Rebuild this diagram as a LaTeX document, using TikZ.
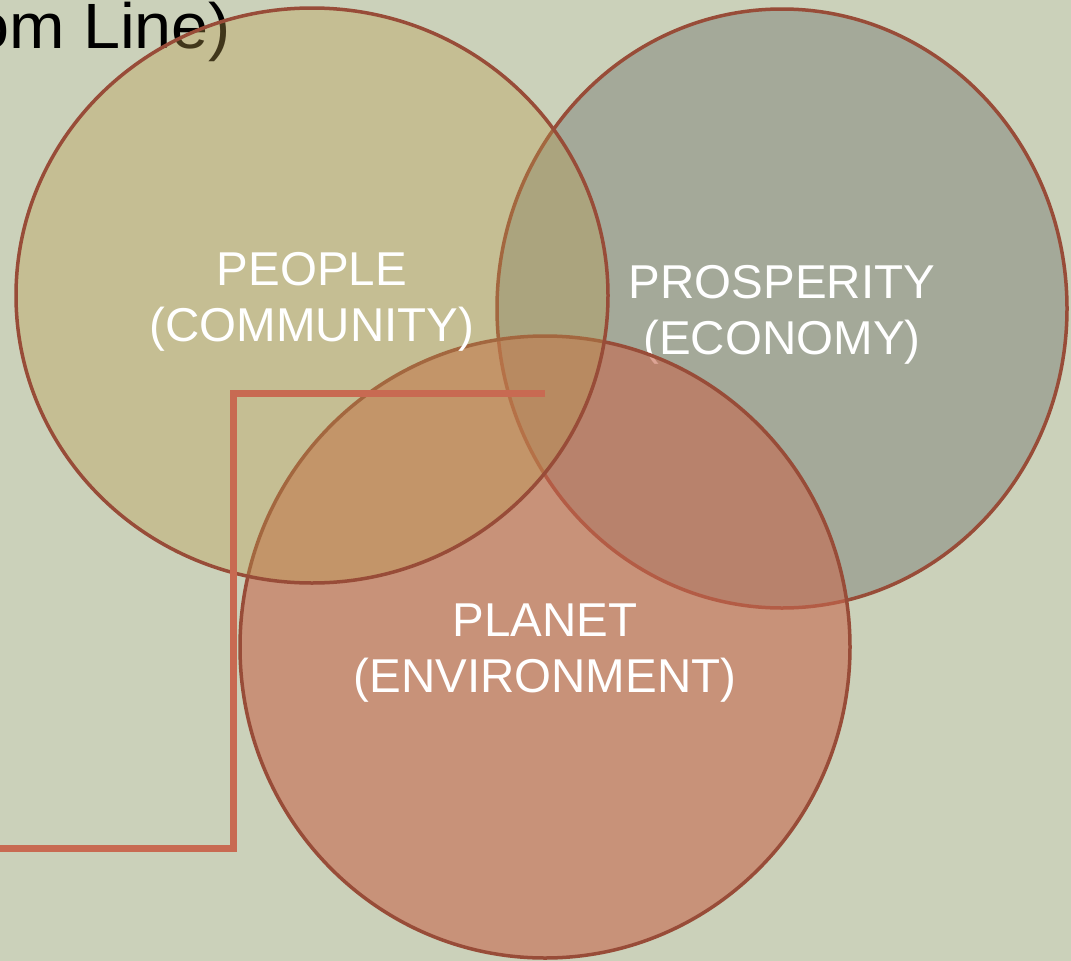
\documentclass[tikz,border=0pt]{standalone}
\usepackage{fontspec}
\setmainfont{Liberation Sans}
\usetikzlibrary{shapes.geometric}

\definecolor{backdrop}{RGB}{203,209,186}
\definecolor{rimcol}{RGB}{152,76,56}
\definecolor{peoplecol}{RGB}{186,155,77}
\definecolor{prospcol}{RGB}{127,131,122}
\definecolor{planetcol}{RGB}{198,104,79}
\definecolor{bracketcol}{RGB}{200,106,82}

\tikzset{
  rim/.style={ellipse, draw=rimcol, line width=3.5pt, inner sep=0pt},
  lbl/.style={text=white, align=center, inner sep=0pt, yshift=-6pt, font=\fontsize{47.5}{56}\selectfont},
  bracket/.style={draw=bracketcol, line width=7pt}
}

\begin{document}
\begin{tikzpicture}[x=1pt,y=-1pt]
\fill[backdrop] (0,0) rectangle (1071,961); %background
\useasboundingbox (0,0) rectangle (1071,961);

\node[anchor=base west, inner sep=0pt, xscale=1.04, font=\fontsize{64}{70}\selectfont] (title) at (-28,48) {om Line)};

\node[rim, fill=prospcol, fill opacity=0.5, minimum width=570pt, minimum height=599pt] (prosperity) at (782,308.5) {};
\node[lbl] (prosperitytext) at (prosperity.center) {PROSPERITY\\(ECONOMY)};

\node[rim, fill=planetcol, fill opacity=0.6, minimum width=610pt, minimum height=622pt] (planet) at (545,647) {};
\node[lbl] (planettext) at (planet.center) {PLANET\\(ENVIRONMENT)};

\node[rim, fill=peoplecol, fill opacity=0.35, minimum width=592pt, minimum height=575pt] (people) at (312,295.5) {};
\node[lbl] (peopletext) at (people.center) {PEOPLE\\(COMMUNITY)};

\coordinate (bracketA) at (545,393);
\coordinate (bracketC) at (233,848.5);
\coordinate (bracketB) at (-5,848.5);
\draw[bracket] (bracketA) -| (bracketC) -- (bracketB);

\end{tikzpicture}
\end{document}
